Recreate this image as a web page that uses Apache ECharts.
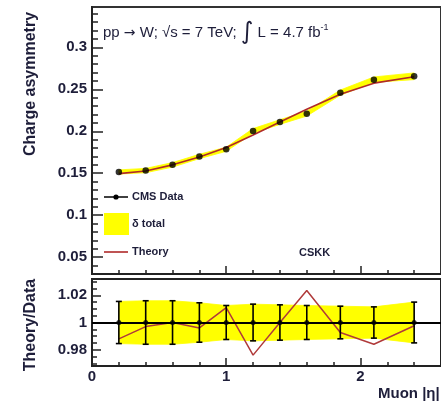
<!DOCTYPE html>
<html>
<head>
<meta charset="utf-8">
<script src="https://cdn.jsdelivr.net/npm/echarts@6/dist/echarts.min.js"></script>
<style>
html,body{margin:0;padding:0;background:#fff;}
#chart{width:441px;height:403px;}
</style>
</head>
<body>
<div id="chart"></div>
<script>
// ---- data ----
const eta      = [0.2, 0.4, 0.6, 0.8, 1.0, 1.2, 1.4, 1.6, 1.85, 2.1, 2.4];
const asym     = [0.1515, 0.1532, 0.160, 0.170, 0.1786, 0.2004, 0.211, 0.221, 0.246, 0.2615, 0.2655];
const asymErr  = [0.0025, 0.0026, 0.0027, 0.0026, 0.0025, 0.0028, 0.0028, 0.0029, 0.0031, 0.0032, 0.0040];
const theory   = [0.1496, 0.1527, 0.160, 0.1693, 0.1806, 0.1956, 0.211, 0.2262, 0.2442, 0.2573, 0.2649];
const ratio    = [0.988, 0.997, 1.0, 0.996, 1.011, 0.976, 1.0, 1.0235, 0.9926, 0.984, 0.9976];
const ratioErr = [0.0155, 0.016, 0.016, 0.0145, 0.0125, 0.0135, 0.013, 0.0125, 0.012, 0.0115, 0.015];

// ---- ticks ----
const xMajor = [0, 1, 2];
const xMinor = [0.2, 0.4, 0.6, 0.8, 1.2, 1.4, 1.6, 1.8, 2.2, 2.4];
const topYMajor = [0.05, 0.1, 0.15, 0.2, 0.25, 0.3];
const topYMinor = [0.04, 0.06, 0.07, 0.08, 0.09, 0.11, 0.12, 0.13, 0.14, 0.16, 0.17, 0.18, 0.19,
                   0.21, 0.22, 0.23, 0.24, 0.26, 0.27, 0.28, 0.29, 0.31, 0.32, 0.33, 0.34];
const ratioYMajor = [0.98, 1, 1.02];
const ratioYMinor = [0.97, 0.975, 0.985, 0.99, 0.995, 1.005, 1.01, 1.015, 1.025, 1.03];

const FONT = "'Liberation Sans', Arial, Helvetica, sans-serif";
const TXT = '#1e1e3a';
const YELLOW = '#ffff00';
const fmt = v => String(+(+v).toFixed(3));

function majorX(grid, labels) {
  return {
    type: 'value', gridIndex: grid, min: 0, max: 2.6, position: 'bottom',
    axisLine: {show: true, onZero: false, lineStyle: {color: '#222', width: 2}},
    axisTick: {show: true, inside: true, length: 8, customValues: xMajor, lineStyle: {color: '#222', width: 1.5}},
    axisLabel: labels ? {show: true, customValues: xMajor, margin: 3, color: TXT,
      fontFamily: FONT, fontWeight: 'bold', fontSize: 15, formatter: fmt} : {show: false},
    splitLine: {show: false}
  };
}
function minorX(grid) {
  return {
    type: 'value', gridIndex: grid, min: 0, max: 2.6, position: 'bottom',
    axisLine: {show: false},
    axisTick: {show: true, inside: true, length: 4, customValues: xMinor, lineStyle: {color: '#222', width: 1.5}},
    axisLabel: {show: false}, splitLine: {show: false}
  };
}
function majorY(grid, min, max, ticks, len) {
  return {
    type: 'value', gridIndex: grid, min: min, max: max, position: 'left',
    axisLine: {show: true, onZero: false, lineStyle: {color: '#222', width: 2}},
    axisTick: {show: true, inside: true, length: len, customValues: ticks, lineStyle: {color: '#222', width: 1.5}},
    axisLabel: {show: true, customValues: ticks, margin: 5, color: TXT,
      fontFamily: FONT, fontWeight: 'bold', fontSize: 15, formatter: fmt},
    splitLine: {show: false}
  };
}
function minorY(grid, min, max, ticks, len) {
  return {
    type: 'value', gridIndex: grid, min: min, max: max, position: 'left',
    axisLine: {show: false},
    axisTick: {show: true, inside: true, length: len, customValues: ticks, lineStyle: {color: '#222', width: 1.5}},
    axisLabel: {show: false}, splitLine: {show: false}
  };
}

// band segments: [x0, lo0, hi0, x1, lo1, hi1]
function bandSegments(center, err) {
  const segs = [];
  for (let i = 0; i < eta.length - 1; i++) {
    segs.push([eta[i], center[i] - err[i], center[i] + err[i],
               eta[i + 1], center[i + 1] - err[i + 1], center[i + 1] + err[i + 1]]);
  }
  return segs;
}
function bandRender(params, api) {
  const a = api.coord([api.value(0), api.value(1)]);
  const b = api.coord([api.value(0), api.value(2)]);
  const c = api.coord([api.value(3), api.value(5)]);
  const d = api.coord([api.value(3), api.value(4)]);
  return {type: 'polygon', shape: {points: [a, b, c, d]},
          style: {fill: YELLOW, stroke: YELLOW, lineWidth: 0.8}};
}
const ones = eta.map(() => 1);

const chart = echarts.init(document.getElementById('chart'), null, {renderer: 'canvas'});

const option = {
  animation: false,
  backgroundColor: '#fff',
  grid: [
    {left: 92, top: 7, width: 354, height: 267, show: true, borderColor: '#333', borderWidth: 2},
    {left: 92, top: 279, width: 354, height: 87, show: true, borderColor: '#222', borderWidth: 2}
  ],
  xAxis: [majorX(0, false), minorX(0), majorX(1, true), minorX(1)],
  yAxis: [
    majorY(0, 0.03, 0.348, topYMajor, 11),
    minorY(0, 0.03, 0.348, topYMinor, 6),
    majorY(1, 0.968, 1.032, ratioYMajor, 9),
    minorY(1, 0.968, 1.032, ratioYMinor, 5)
  ],
  series: [
    // top panel: total uncertainty band
    {type: 'custom', xAxisIndex: 0, yAxisIndex: 0, z: 1, silent: true,
     encode: {x: [0, 3], y: [1, 2, 4, 5]},
     data: bandSegments(asym, asymErr), renderItem: bandRender},
    // theory
    {type: 'line', xAxisIndex: 0, yAxisIndex: 0, symbol: 'none', z: 3,
     lineStyle: {color: '#b02a2a', width: 1.6}, data: eta.map((x, i) => [x, theory[i]])},
    // data
    {type: 'scatter', xAxisIndex: 0, yAxisIndex: 0, symbolSize: 6.5, z: 4,
     itemStyle: {color: '#000'}, data: eta.map((x, i) => [x, asym[i]])},

    // ratio panel band
    {type: 'custom', xAxisIndex: 2, yAxisIndex: 2, z: 1, silent: true,
     encode: {x: [0, 3], y: [1, 2, 4, 5]},
     data: bandSegments(ones, ratioErr), renderItem: bandRender,
     markLine: {symbol: 'none', silent: true, label: {show: false},
       lineStyle: {color: '#000', width: 2, type: 'solid'}, data: [{yAxis: 1}]}},
    // theory / data
    {type: 'line', xAxisIndex: 2, yAxisIndex: 2, symbol: 'none', z: 3,
     lineStyle: {color: '#b03a3a', width: 1.5}, data: eta.map((x, i) => [x, ratio[i]])},
    // data error bars
    {type: 'custom', xAxisIndex: 2, yAxisIndex: 2, z: 4, encode: {x: 0, y: 1},
     data: eta.map((x, i) => [x, 1, ratioErr[i]]),
     renderItem: function (params, api) {
       const x = api.value(0), y = api.value(1), e = api.value(2);
       const t = api.coord([x, y + e]), b = api.coord([x, y - e]);
       const w = 3;
       const st = {stroke: '#000', lineWidth: 1.6};
       return {type: 'group', children: [
         {type: 'line', shape: {x1: t[0], y1: t[1], x2: b[0], y2: b[1]}, style: st},
         {type: 'line', shape: {x1: t[0] - w, y1: t[1], x2: t[0] + w, y2: t[1]}, style: st},
         {type: 'line', shape: {x1: b[0] - w, y1: b[1], x2: b[0] + w, y2: b[1]}, style: st}
       ]};
     }},
    {type: 'scatter', xAxisIndex: 2, yAxisIndex: 2, symbolSize: 5, z: 5,
     itemStyle: {color: '#000'}, data: eta.map(x => [x, 1])}
  ],
  graphic: [
    {type: 'text', x: 103, y: 33, z: 10, style: {
      text: '{a|pp }{d|→}{a| W; √s = 7 TeV; }{b|∫}{a| L = 4.7 fb}{c|-1}',
      verticalAlign: 'middle', fill: TXT,
      rich: {
        a: {fontFamily: FONT, fontSize: 15, lineHeight: 15, verticalAlign: 'middle', fill: TXT},
        d: {fontFamily: "'DejaVu Sans', sans-serif", fontSize: 14, lineHeight: 15, verticalAlign: 'middle', fill: TXT},
        b: {fontFamily: "'DejaVu Sans', sans-serif", fontSize: 24, lineHeight: 28, verticalAlign: 'middle', fill: TXT},
        c: {fontFamily: FONT, fontSize: 9, lineHeight: 9, verticalAlign: 'top', padding: [4, 0, 0, 0], fill: TXT}
      }
    }},
    // legend
    {type: 'line', shape: {x1: 104, y1: 197, x2: 128, y2: 197}, style: {stroke: '#000', lineWidth: 1.5}},
    {type: 'circle', shape: {cx: 116, cy: 197, r: 2.6}, style: {fill: '#000'}},
    {type: 'text', x: 132, y: 197, style: {text: 'CMS Data', font: 'bold 11px ' + FONT, fill: TXT, verticalAlign: 'middle'}},
    {type: 'rect', shape: {x: 104, y: 213, width: 25, height: 22}, style: {fill: YELLOW}},
    {type: 'text', x: 132, y: 224, style: {text: 'δ total', font: 'bold 11px ' + FONT, fill: TXT, verticalAlign: 'middle'}},
    {type: 'line', shape: {x1: 104, y1: 252, x2: 128, y2: 252}, style: {stroke: '#b02a2a', lineWidth: 1.6}},
    {type: 'text', x: 132, y: 252, style: {text: 'Theory', font: 'bold 11px ' + FONT, fill: TXT, verticalAlign: 'middle'}},
    {type: 'text', x: 299, y: 253, style: {text: 'CSKK', font: 'bold 11px ' + FONT, fill: TXT, verticalAlign: 'middle'}},
    // axis titles
    {type: 'text', x: 31, y: 84, rotation: Math.PI / 2, style: {text: 'Charge asymmetry', font: 'bold 16px ' + FONT,
      fill: TXT, align: 'center', verticalAlign: 'middle'}},
    {type: 'text', x: 31, y: 325, rotation: Math.PI / 2, style: {text: 'Theory/Data', font: 'bold 16px ' + FONT,
      fill: TXT, align: 'center', verticalAlign: 'middle'}},
    {type: 'text', x: 378, y: 394, style: {text: 'Muon |η|', font: 'bold 15px ' + FONT,
      fill: TXT, align: 'left', verticalAlign: 'middle'}}
  ]
};
chart.setOption(option);
</script>
</body>
</html>
